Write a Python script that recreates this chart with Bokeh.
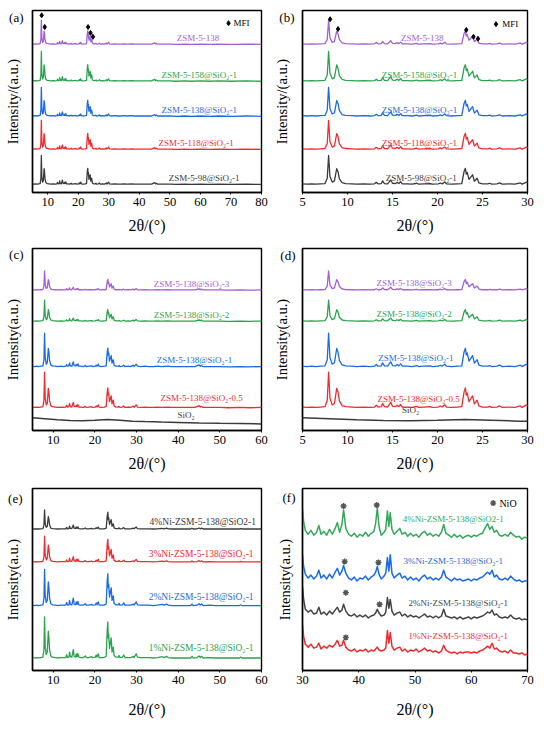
from bokeh.plotting import figure
from bokeh.layouts import gridplot
from bokeh.models import FixedTicker, Range1d
from bokeh.core.properties import value
from bokeh.embed import file_html
from bokeh.resources import INLINE

FONT = "Liberation Serif"

# ---------------- DATA ----------------
# MFI (ZSM-5) pattern (a)/(b): 2theta vertices and relative intensity (7.9 deg peak = 100)
mfi_2theta = [5.0, 5.5, 6.0, 6.5, 7.0, 7.5, 7.75, 7.9, 8.05, 8.3,
              8.55, 8.8, 8.95, 9.1, 9.4, 9.8, 10.5, 11.0, 11.8, 12.5,
              13.0, 13.2, 13.4, 13.75, 13.9, 14.1, 14.45, 14.8, 15.0, 15.35,
              15.5, 15.7, 15.9, 16.1, 16.6, 17.2, 17.7, 17.9, 18.5, 19.2,
              19.4, 20.1, 20.3, 20.5, 20.8, 21.0, 21.6, 22.2, 22.7, 22.95,
              23.1, 23.2, 23.3, 23.5, 23.7, 23.9, 24.1, 24.4, 24.6, 25.0,
              25.6, 25.8, 26.0, 26.6, 26.9, 27.2, 28.0, 28.6, 29.2, 29.4,
              29.9, 30.2, 31.0, 32.0, 33.0, 34.0, 35.0, 36.0, 37.5, 38.5,
              40.0, 42.0, 44.0, 45.0, 45.3, 45.5, 46.0, 48.0, 50.0, 52.0,
              55.0, 57.0, 60.0, 63.0, 66.0, 70.0, 75.0, 80.0]
mfi_rel = [3, 2, 3, 2, 3, 4, 22, 100, 28, 9,
           13, 55, 44, 20, 7, 4, 3, 2, 3, 2,
           3, 8, 3, 4, 13, 4, 3, 16, 5, 4,
           8, 4, 10, 3, 3, 2, 5, 2, 3, 4,
           2, 3, 6, 3, 9, 3, 2, 3, 4, 45,
           56, 36, 42, 18, 26, 34, 12, 22, 6, 3,
           3, 5, 2, 3, 6, 2, 3, 2, 6, 2,
           9, 3, 2, 3, 2, 2, 3, 2, 3, 2,
           2, 2, 2, 7, 3, 5, 2, 2, 2, 1,
           2, 1, 2, 1, 2, 1, 2, 1]

# Ni-loaded samples, panel (e)
ni_2theta = [5.0, 5.5, 6.0, 6.5, 7.0, 7.5, 7.75, 7.9, 8.05, 8.3,
             8.55, 8.8, 8.95, 9.1, 9.4, 9.8, 10.5, 11.0, 11.8, 12.5,
             13.0, 13.2, 13.4, 13.75, 13.9, 14.1, 14.45, 14.8, 15.0, 15.35,
             15.5, 15.7, 15.9, 16.1, 16.6, 17.2, 17.7, 17.9, 18.5, 19.2,
             19.4, 20.1, 20.3, 20.5, 20.8, 21.0, 21.6, 22.2, 22.7, 22.95,
             23.1, 23.2, 23.3, 23.5, 23.7, 23.9, 24.1, 24.4, 24.6, 25.0,
             25.6, 25.8, 26.0, 26.6, 26.9, 27.2, 28.0, 28.6, 29.2, 29.4,
             29.9, 30.2, 31.0, 32.0, 33.0, 34.0, 35.0, 36.2, 36.6, 37.2,
             37.6, 38.5, 40.0, 41.5, 43.0, 43.3, 43.6, 44.5, 45.0, 45.3,
             45.6, 46.0, 47.5, 49.0, 51.0, 53.0, 54.7, 55.0, 55.3, 57.0,
             60.0]
ni_rel = [3, 2, 3, 2, 3, 4, 22, 100, 28, 10,
          16, 66, 50, 22, 7, 4, 3, 2, 3, 3,
          3, 10, 3, 4, 16, 5, 4, 22, 6, 4,
          12, 5, 13, 4, 3, 3, 7, 3, 3, 5,
          3, 4, 9, 4, 12, 3, 3, 3, 6, 70,
          88, 50, 60, 25, 38, 50, 16, 28, 8, 4,
          4, 8, 3, 4, 9, 3, 3, 3, 6, 3,
          12, 4, 3, 3, 3, 2, 3, 5, 3, 6,
          3, 2, 2, 2, 2, 6, 2, 3, 7, 3,
          6, 2, 3, 2, 2, 2, 2, 4, 2, 2,
          2]

# amorphous SiO2, panels (c)/(d)
sio2_2theta = [5, 8, 11, 14, 17, 20, 23, 26, 29, 32, 36, 40, 45, 50, 55, 60]
sio2_int = [13.0, 12.0, 11.0, 10.2, 10.0, 10.5, 11.2, 10.6, 9.6, 9.2, 8.7, 8.3, 7.8, 7.4, 7.1, 6.8]

# panel (f): 30-70 deg detail of Ni samples (intensity above each trace's base)
f_2theta = [30.0, 30.2, 30.5, 31.0, 31.5, 32.0, 32.5, 32.9, 33.3, 33.8,
            34.3, 34.8, 35.3, 35.8, 36.2, 36.6, 37.0, 37.3, 37.7, 38.2,
            38.7, 39.2, 39.7, 40.2, 40.7, 41.2, 41.7, 42.2, 42.7, 43.0,
            43.3, 43.6, 44.0, 44.5, 44.8, 45.1, 45.35, 45.6, 45.9, 46.3,
            46.8, 47.3, 47.7, 48.2, 48.7, 49.2, 49.7, 50.2, 50.7, 51.2,
            51.7, 52.2, 52.7, 53.2, 53.7, 54.2, 54.7, 55.1, 55.5, 56.0,
            56.5, 57.0, 57.5, 58.0, 58.5, 59.0, 59.5, 60.0, 60.5, 61.0,
            61.5, 62.0, 62.5, 62.9, 63.3, 63.7, 64.1, 64.5, 65.0, 65.5,
            66.0, 66.5, 67.0, 67.5, 68.0, 68.5, 69.0, 69.5, 70.0]
f_ni4 = [30, 17, 8, 4, 8, 3, 6, 13, 4, 7,
         3, 9, 4, 10, 16, 6, 14, 29, 10, 4,
         2, 5, 1, 4, 2, 6, 2, 5, 7, 15,
         31, 12, 3, 6, 9, 28, 12, 26, 9, 4,
         7, 10, 4, 6, 2, 5, 2, 4, 1, 5,
         7, 3, 5, 2, 4, 2, 6, 14, 5, 3,
         1, 4, 1, 3, 0, 2, 3, 1, 3, 2,
         4, 5, 11, 15, 9, 12, 6, 8, 3, 2,
         4, 2, 6, 3, 1, 2, -1, 1, 0]
f_ni3 = [27, 15, 7, 3, 6, 2, 5, 11, 3, 6,
         2, 7, 3, 9, 13, 6, 10, 16, 8, 3,
         1, 4, 0, 3, 2, 5, 1, 4, 6, 9,
         15, 7, 2, 5, 8, 24, 10, 27, 8, 3,
         6, 8, 3, 5, 1, 4, 1, 3, 0, 4,
         6, 2, 4, 1, 3, 1, 4, 11, 4, 2,
         0, 3, 1, 2, 0, 1, 2, 0, 2, 1,
         3, 4, 7, 9, 7, 11, 4, 6, 2, 1,
         3, 1, 5, 2, 0, 1, -1, 0, 0]
f_ni2 = [33, 20, 10, 7, 9, 5, 6, 12, 5, 7,
         4, 8, 5, 9, 12, 7, 9, 15, 8, 4,
         3, 5, 2, 4, 2, 4, 1, 3, 4, 6,
         10, 6, 3, 4, 7, 22, 11, 20, 8, 4,
         6, 7, 3, 5, 2, 4, 2, 3, 1, 3,
         5, 2, 3, 1, 3, 1, 3, 10, 3, 2,
         1, 2, 0, 2, 0, 1, 2, 0, 2, 1,
         2, 3, 5, 7, 6, 9, 4, 5, 2, 1,
         2, 1, 4, 1, 0, 1, -1, 0, -1]
f_ni1 = [30, 18, 10, 7, 10, 6, 7, 11, 5, 8,
         6, 9, 7, 10, 14, 8, 9, 14, 7, 4,
         3, 5, 2, 4, 3, 5, 2, 4, 3, 5,
         7, 4, 3, 4, 6, 24, 11, 22, 8, 4,
         6, 7, 3, 5, 2, 4, 3, 5, 2, 4,
         6, 3, 4, 2, 3, 1, 3, 9, 4, 2,
         1, 2, 0, 2, 1, 2, 2, 1, 2, 1,
         3, 4, 6, 8, 6, 11, 5, 6, 3, 2,
         3, 1, 4, 1, 1, 0, 1, -1, 0]

# series names / scale factors (height of 7.9 deg peak)
a_names = ["ZSM-5-138", "ZSM-5-158@SiO\u2082-1", "ZSM-5-138@SiO\u2082-1",
           "ZSM-5-118@SiO\u2082-1", "ZSM-5-98@SiO\u2082-1"]
a_scale = [25, 31, 30, 30, 30]
c_names = ["ZSM-5-138@SiO\u2082-3", "ZSM-5-138@SiO\u2082-2",
           "ZSM-5-138@SiO\u2082-1", "ZSM-5-138@SiO\u2082-0.5"]
c_scale = [20, 22, 35, 37]
e_names = ["4%Ni-ZSM-5-138@SiO2-1", "3%Ni-ZSM-5-138@SiO\u2082-1",
           "2%Ni-ZSM-5-138@SiO\u2082-1", "1%Ni-ZSM-5-138@SiO\u2082-1"]
e_scale = [20, 27, 38, 43]
f_names = ["4%Ni-ZSM-5-138@SiO2-1", "3%Ni-ZSM-5-138@SiO\u2082-1",
           "2%Ni-ZSM-5-138@SiO\u2082-1", "1%Ni-ZSM-5-138@SiO\u2082-1"]
f_series = [f_ni4, f_ni3, f_ni2, f_ni1]

# marker annotations
mfi_a_x = [8.0, 9.0, 23.2, 24.0, 24.8]
mfi_a_y = [182, 170, 170, 164, 160]
mfi_b_x = [8.07, 8.95, 23.2, 24.0, 24.5]
mfi_b_y = [178, 168, 167, 160, 158]
nio_x = [37.3, 43.2, 37.5, 43.5, 37.7, 43.7, 37.7]
nio_y = [169, 170, 112, 111, 80, 68, 34]

# ---------------- STYLE / LAYOUT ----------------
PURPLE = "#A25FD6"
GREEN = "#2CA24F"
BLUE = "#1A6AE8"
RED = "#F02A2E"
BLACK = "#3A3A3A"

a_colors = [PURPLE, GREEN, BLUE, RED, BLACK]
a_offset = [152, 114, 78, 44, 8]
a_lab_x = [59.2, 59.6, 59.6, 58.6, 61.2]
b_lab_x = [18.3, 18.0, 18.0, 18.0, 18.2]
a_lab_y = [159, 121, 85, 51, 15]

c_colors = [PURPLE, GREEN, BLUE, RED]
c_offset = [144, 112, 65, 23]
c_lab_x = [43.2, 43.2, 43.9, 45.6]
c_lab_y = [151, 119, 72, 33]
d_lab_x = [17.4, 17.4, 17.6, 17.9]
d_lab_y = [152, 120, 74, 32]

e_colors = [BLACK, RED, BLUE, GREEN]
e_offset = [145, 111, 66, 12]
e_lab_x = [45.9, 45.5, 45.5, 45.5]
e_lab_y = [153, 120, 76, 23]

f_colors = ["#34A85A", BLUE, "#444444", RED]
f_offset = [136, 92, 53, 17]
f_lab_x = [56.8, 56.8, 57.7, 57.7]
f_lab_y = [156, 112, 69, 35]


def make_fig(xr, xticks, h, left, right, top, bottom, xstand, ylabel, letter, ly, lstand):
    p = figure(width=271, height=h, x_range=Range1d(*xr), y_range=Range1d(0, 187),
               output_backend="svg", toolbar_location=None, tools="",
               min_border_left=left, min_border_right=right,
               min_border_top=top, min_border_bottom=bottom)
    p.grid.visible = False
    p.outline_line_color = "black"
    p.outline_line_width = 1.4
    p.background_fill_color = "white"
    p.border_fill_color = "white"
    xa = p.xaxis[0]
    xa.ticker = FixedTicker(ticks=xticks)
    xa.major_label_text_font = FONT
    xa.major_label_text_font_size = "12.5px"
    xa.major_label_text_color = "black"
    xa.major_tick_out = 2
    xa.major_tick_in = 0
    xa.minor_tick_out = 0
    xa.minor_tick_in = 0
    xa.major_label_standoff = 3
    xa.axis_line_width = 1.4
    xa.axis_label = "2\u03b8/(\u00b0)"
    xa.axis_label_text_font = FONT
    xa.axis_label_text_font_size = "16px"
    xa.axis_label_text_font_style = "normal"
    xa.axis_label_text_color = "black"
    xa.axis_label_standoff = xstand
    # y axis: no intensity ticks; the panel letter is placed as the single tick label
    ya = p.yaxis[0]
    ya.ticker = FixedTicker(ticks=[ly])
    ya.major_label_overrides = {ly: letter}
    ya.major_label_text_font = FONT
    ya.major_label_text_font_size = "13px"
    ya.major_label_text_color = "black"
    ya.major_label_standoff = lstand
    ya.major_tick_out = 0
    ya.major_tick_in = 0
    ya.minor_tick_out = 0
    ya.minor_tick_in = 0
    ya.axis_line_width = 1.4
    ya.axis_label = ylabel
    ya.axis_label_text_font = FONT
    ya.axis_label_text_font_size = "14.5px"
    ya.axis_label_text_font_style = "normal"
    ya.axis_label_text_color = "black"
    ya.axis_label_standoff = -6 - lstand
    return p


def add_labels(p, xs, ys, names, colors, size="9px"):
    p.text(x=xs, y=ys, text=names, text_color=colors, text_font=value(FONT),
           text_font_size=size, text_align="center", text_baseline="middle")


YL1 = "Intensity/(a.u.)"
YL2 = "Intensity(a.u.)"

# ---- (a) and (b)
pa = make_fig((5, 80), [10, 20, 30, 40, 50, 60, 70, 80], 238, 32, 8, 10, 46, 8, YL1, "(a)", 180, 9)
pb = make_fig((5, 30), [5, 10, 15, 20, 25, 30], 238, 27, 12, 10, 46, 8, YL1, "(b)", 180, 8)
for p, labx in ((pa, a_lab_x), (pb, b_lab_x)):
    for rel_sc, off, col in zip(a_scale, a_offset, a_colors):
        ys = [off + rel_sc * r / 100.0 for r in mfi_rel]
        p.line(mfi_2theta, ys, line_color=col, line_width=1.3, line_join="round")
    add_labels(p, labx, a_lab_y, a_names, a_colors)
pa.scatter(mfi_a_x, mfi_a_y, marker="diamond", size=5, color="black")
pb.scatter(mfi_b_x, mfi_b_y, marker="diamond", size=5, color="black")
pa.scatter([69.2], [174], marker="diamond", size=5, color="black")
pa.text(x=[70.8], y=[174], text=["MFI"], text_font=value(FONT), text_font_size="9px",
        text_align="left", text_baseline="middle", text_color="black")
pb.scatter([26.5], [173], marker="diamond", size=5, color="black")
pb.text(x=[27.2], y=[173], text=["MFI"], text_font=value(FONT), text_font_size="9px",
        text_align="left", text_baseline="middle", text_color="black")

# ---- (c) and (d)
pc = make_fig((5, 60), [10, 20, 30, 40, 50, 60], 238, 32, 10, 10, 46, 8, YL2, "(c)", 181, 9)
pd = make_fig((5, 30), [5, 10, 15, 20, 25, 30], 238, 26, 15, 10, 46, 8, YL2, "(d)", 180, 7)
for p, labx, laby in ((pc, c_lab_x, c_lab_y), (pd, d_lab_x, d_lab_y)):
    for rel_sc, off, col in zip(c_scale, c_offset, c_colors):
        ys = [off + rel_sc * r / 100.0 for r in mfi_rel]
        p.line(mfi_2theta, ys, line_color=col, line_width=1.3, line_join="round")
    p.line(sio2_2theta, sio2_int, line_color=BLACK, line_width=1.5)
    add_labels(p, labx, laby, c_names, c_colors)
pc.text(x=[41.9], y=[16], text=["SiO\u2082"], text_font=value(FONT), text_font_size="9px",
        text_align="center", text_baseline="middle", text_color=BLACK)
pd.text(x=[17.0], y=[21], text=["SiO\u2082"], text_font=value(FONT), text_font_size="9px",
        text_align="center", text_baseline="middle", text_color=BLACK)

# ---- (e)
pe = make_fig((5, 60), [10, 20, 30, 40, 50, 60], 249, 32, 8, 12, 55, 14, YL2, "(e)", 177, 10)
for rel_sc, off, col in zip(e_scale, e_offset, e_colors):
    ys = [off + rel_sc * r / 100.0 for r in ni_rel]
    pe.line(ni_2theta, ys, line_color=col, line_width=1.3, line_join="round")
add_labels(pe, e_lab_x, e_lab_y, e_names, e_colors, "9.5px")

# ---- (f)
pf = make_fig((30, 70), [30, 40, 50, 60, 70], 249, 26, 14, 12, 55, 14, YL2, "(f)", 178, 7)
for vals, off, col in zip(f_series, f_offset, f_colors):
    ys = [off + v for v in vals]
    pf.line(f_2theta, ys, line_color=col, line_width=1.5, line_join="round")
add_labels(pf, f_lab_x, f_lab_y, f_names, f_colors)
pf.scatter(nio_x, nio_y, marker="asterisk", size=6, line_color="#555555", line_width=1.4)
pf.scatter([63.9], [172], marker="asterisk", size=6, line_color="#555555", line_width=1.4)
pf.text(x=[65.0], y=[172], text=["NiO"], text_font=value(FONT), text_font_size="10px",
        text_align="left", text_baseline="middle", text_color="black")

grid = gridplot([[pa, pb], [pc, pd], [pe, pf]], toolbar_location=None)

open("out.html", "w").write(file_html(grid, INLINE))
